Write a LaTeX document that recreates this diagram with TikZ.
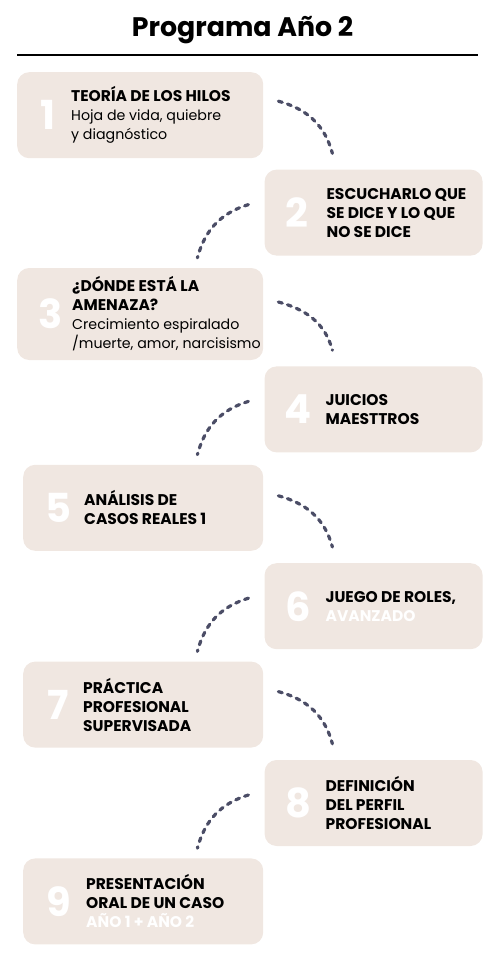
\documentclass[tikz,border=0pt]{standalone}
\usepackage{fontspec}
\setmainfont{Poppins}
\usetikzlibrary{positioning}
\definecolor{arena}{HTML}{F0E7E1}
\definecolor{pizarra}{HTML}{4B4D66}
\newcommand{\subtexto}{\mdseries\fontsize{14.2}{19}\selectfont}

\begin{document}
\begin{tikzpicture}[node distance=12pt and 1pt,
    paso/.style={fill=arena, rounded corners=12pt, minimum height=86pt, inner sep=0pt},
    izq/.style={paso, minimum width=240pt},
    der/.style={paso, minimum width=218pt},
    numero/.style={text=white, inner sep=0pt, font=\fontsize{40}{40}\selectfont\bfseries},
    texto/.style={anchor=west, align=left, inner sep=0pt, font=\fontsize{15.5}{19}\selectfont\bfseries},
    enlace/.style={draw=pizarra, line width=3.2pt, dash pattern=on 4pt off 5.5pt, line cap=round}]
  \useasboundingbox (0pt,0pt) rectangle (497pt,-968pt);
  % title
  \node[font=\fontsize{26.8}{28}\selectfont\bfseries] (titulo) at (242.5pt,-30pt) {Programa Año 2};
  \draw[line width=1.2pt] (17pt,-55pt) -- (478pt,-55pt);

  % boxes
  \node[izq, minimum width=246pt, anchor=north west] (p1) at (17pt,-72pt) {};
  \node[der] (p2) [below right=11pt and 1pt of p1] {};
  \node[izq, minimum width=246pt, minimum height=92pt] (p3) [below left=of p2] {};
  \node[der] (p4) [below right=6pt and 1pt of p3] {};
  \node[izq] (p5) [below left=of p4] {};
  \node[der] (p6) [below right=of p5] {};
  \node[izq] (p7) [below left=of p6] {};
  \node[der] (p8) [below right=of p7] {};
  \node[izq] (p9) [below left=of p8] {};

  % texts
  \node[texto] (t1) at ([xshift=54pt]p1.west) {TEORÍA DE LOS HILOS\\ \subtexto Hoja de vida, quiebre\\ \subtexto y diagnóstico};
  \node[texto] (t2) at ([xshift=62pt]p2.west) {ESCUCHARLO QUE\\ SE DICE Y LO QUE\\ NO SE DICE};
  \node[texto] (t3) at ([xshift=55pt]p3.west) {¿DÓNDE ESTÁ LA\\ AMENAZA?\\ \subtexto Crecimiento espiralado\\ \subtexto /muerte, amor, narcisismo};
  \node[texto] (t4) at ([xshift=61pt]p4.west) {JUICIOS\\ MAESTTROS};
  \node[texto] (t5) at ([xshift=61pt]p5.west) {ANÁLISIS DE\\ CASOS REALES 1};
  \node[texto] (t6) at ([xshift=61pt]p6.west) {JUEGO DE ROLES,\\ \textcolor{white}{AVANZADO}};
  \node[texto] (t7) at ([xshift=60pt]p7.west) {PRÁCTICA\\ PROFESIONAL\\ SUPERVISADA};
  \node[texto] (t8) at ([xshift=61pt]p8.west) {DEFINICIÓN\\ DEL PERFIL\\ PROFESIONAL};
  \node[texto] (t9) at ([xshift=63pt]p9.west) {PRESENTACIÓN\\ ORAL DE UN CASO\\ \textcolor{white}{AÑO 1 + AÑO 2}};

  % numbers
  \node[numero] (n1) at ([xshift=31pt]p1.west) {1};
  \node[numero] (n2) at ([xshift=33pt]p2.west) {2};
  \node[numero] (n3) at ([xshift=34pt]p3.west) {3};
  \node[numero] (n4) at ([xshift=34pt]p4.west) {4};
  \node[numero] (n5) at ([xshift=35pt]p5.west) {5};
  \node[numero] (n6) at ([xshift=34pt]p6.west) {6};
  \node[numero] (n7) at ([xshift=35pt]p7.west) {7};
  \node[numero] (n8) at ([xshift=34pt]p8.west) {8};
  \node[numero] (n9) at ([xshift=36pt]p9.west) {9};

  % dashed links
  \coordinate (a1) at ([shift={(15pt,14pt)}]p1.east);
  \coordinate (b1) at ([shift={(68pt,16pt)}]p2.north west);
  \coordinate (a2) at ([shift={(-16pt,8pt)}]p2.west);
  \coordinate (b2) at ([shift={(-66pt,10pt)}]p3.north east);
  \coordinate (a3) at ([shift={(15pt,12pt)}]p3.east);
  \coordinate (b3) at ([shift={(68pt,16pt)}]p4.north west);
  \coordinate (a4) at ([shift={(-16pt,8pt)}]p4.west);
  \coordinate (b4) at ([shift={(-66pt,10pt)}]p5.north east);
  \coordinate (a5) at ([shift={(15pt,12pt)}]p5.east);
  \coordinate (b5) at ([shift={(68pt,16pt)}]p6.north west);
  \coordinate (a6) at ([shift={(-16pt,8pt)}]p6.west);
  \coordinate (b6) at ([shift={(-66pt,10pt)}]p7.north east);
  \coordinate (a7) at ([shift={(15pt,13pt)}]p7.east);
  \coordinate (b7) at ([shift={(68pt,16pt)}]p8.north west);
  \coordinate (a8) at ([shift={(-16pt,8pt)}]p8.west);
  \coordinate (b8) at ([shift={(-66pt,10pt)}]p9.north east);
  \draw[enlace] (a1) to[out=-15, in=105] (b1);
  \draw[enlace] (a2) to[out=197, in=75] (b2);
  \draw[enlace] (a3) to[out=-15, in=105] (b3);
  \draw[enlace] (a4) to[out=197, in=75] (b4);
  \draw[enlace] (a5) to[out=-15, in=105] (b5);
  \draw[enlace] (a6) to[out=197, in=75] (b6);
  \draw[enlace] (a7) to[out=-15, in=105] (b7);
  \draw[enlace] (a8) to[out=197, in=75] (b8);
\end{tikzpicture}
\end{document}
